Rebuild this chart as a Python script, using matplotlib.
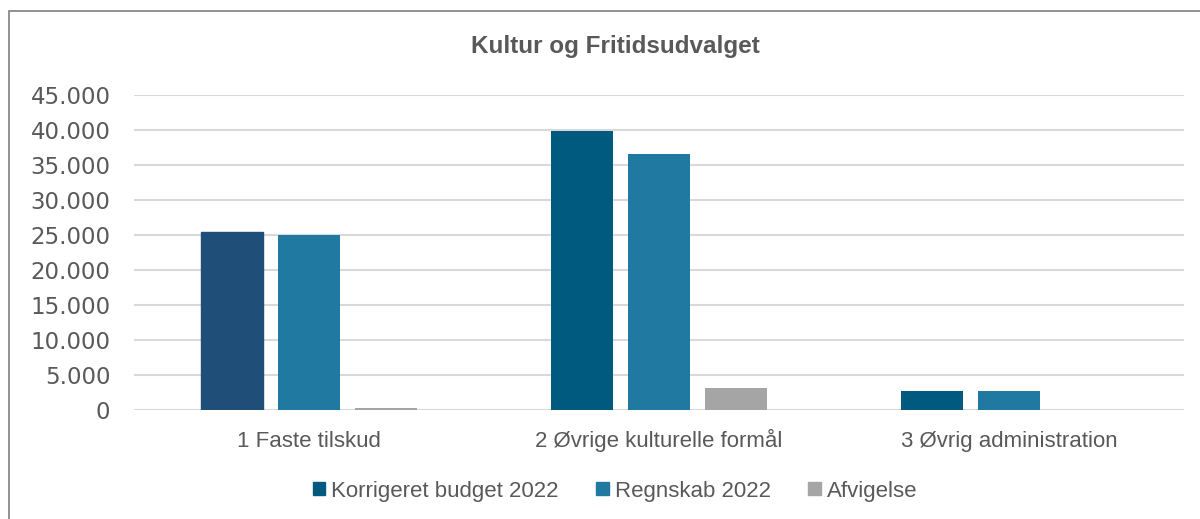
import numpy as np
import matplotlib.pyplot as plt
from matplotlib.patches import Rectangle, Patch
from matplotlib.transforms import blended_transform_factory

categories = ["1 Faste tilskud", "2 Øvrige kulturelle formål", "3 Øvrig administration"]
series_names = ["Korrigeret budget 2022", "Regnskab 2022", "Afvigelse"]
budget = [25400, 39850, 2750]
regnskab = [25000, 36600, 2750]
afvigelse = [250, 3150, 0]

colors = ["#00597F", "#1F79A1", "#A5A5A5"]
first_bar_color = "#1F4E79"
text_gray = "#595959"

fig = plt.figure(figsize=(12, 5.19), dpi=100)
ax = fig.add_axes([134 / 1200, 1 - 410 / 519, 1050 / 1200, 315 / 519])

x = np.arange(len(categories))
width = 0.177
step = 0.22
for i, vals in enumerate([budget, regnskab, afvigelse]):
    bars = ax.bar(x + (i - 1) * step, vals, width, color=colors[i], zorder=3)
    if i == 0:
        bars[0].set_color(first_bar_color)

ax.set_xlim(-0.5, len(categories) - 0.5)
ax.set_ylim(0, 45000)
ax.set_yticks(np.arange(0, 45001, 5000))
ax.set_yticklabels([f"{v:,}".replace(",", ".") for v in range(0, 45001, 5000)],
                   fontsize=16.5, color=text_gray, family="DejaVu Sans")
ax.tick_params(axis="y", length=0, pad=17)
ax.set_xticks([])
ax.grid(axis="y", color="#D9D9D9", linewidth=1.5, zorder=0)
for s in ax.spines.values():
    s.set_visible(False)

# category labels on a common baseline
trans = blended_transform_factory(ax.transData, ax.transAxes)
for xi, lab in zip(x, categories):
    ax.text(xi, -37 / 315, lab, transform=trans, ha="center", va="baseline",
            fontsize=16, color=text_gray, family="Liberation Sans")

fig.text(0.5125, 1 - 53 / 519, "Kultur og Fritidsudvalget", ha="center", va="baseline",
         fontsize=17.5, fontweight="bold", color=text_gray, family="Liberation Sans")

handles = [Patch(color=c) for c in colors]
fig.legend(handles, series_names, loc="center", bbox_to_anchor=(0.5125, 1 - 491 / 519),
           ncol=3, frameon=False, handlelength=0.55, handleheight=0.55, handletextpad=0.27,
           columnspacing=1.7, prop={"family": "Liberation Sans", "size": 16},
           labelcolor=text_gray)

# chart border (cut off at right and bottom in the reference)
fig.add_artist(Rectangle((8.5 / 1200, -0.1), 1.2, 1 - 10.5 / 519 + 0.1, transform=fig.transFigure,
                         fill=False, edgecolor="#7F7F7F", linewidth=1.2))

plt.savefig("out.png", dpi=100)
